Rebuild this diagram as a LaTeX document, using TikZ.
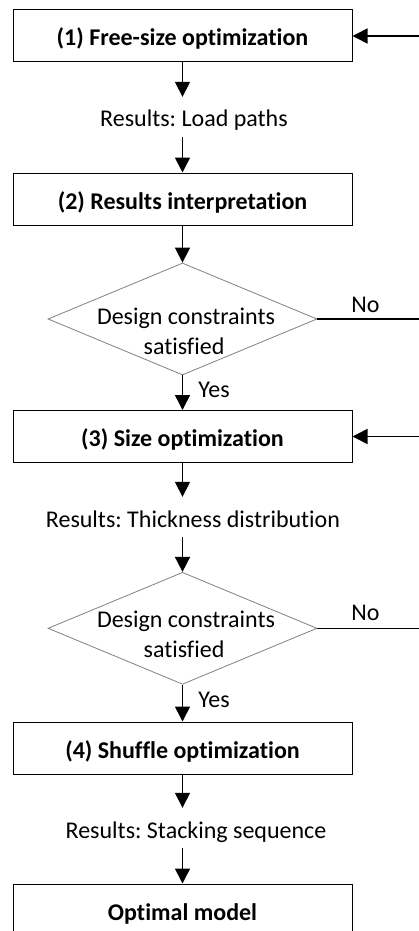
\documentclass[tikz,border=0pt]{standalone}
\usepackage{fontspec}
\setmainfont{Carlito}[Ligatures=NoCommon]
\usetikzlibrary{arrows.meta,shapes.geometric}
\frenchspacing

\begin{document}
\begin{tikzpicture}[x=1pt, y=-1pt,
      every node/.style = {font=\fontsize{24}{29}\selectfont},
      stepbox/.style = {draw, rectangle, line width=1pt, minimum width=339pt,
            minimum height=52pt, inner sep=0pt, text height=20pt, text depth=0pt,
            font=\bfseries\fontsize{24}{29}\selectfont},
      check/.style = {draw=gray, diamond, line width=0.8pt, minimum width=269pt,
            minimum height=112pt, inner sep=0pt},
      res/.style = {anchor=base, inner sep=0pt, text height=30pt, text depth=10pt},
      flow/.style = {-{Triangle[length=15pt,width=15pt]}, line width=1.6pt}
      ]
      \clip (0,0) rectangle (419,931);
      \coordinate (rim) at (420,0);

      \node[stepbox] (s1) at (182.5,36) {(1) Free-size optimization};
      \node[res] (r1) at (194,127) {Results: Load paths};
      \node[stepbox] (s2) at (182.5,199) {(2) Results interpretation};
      \node[check] (d1) at (182.5,319) {};
      \node[anchor=base] (t1) at (186,324) {Design constraints};
      \node[anchor=base] (t1b) at (184,354) {satisfied};
      \node[anchor=base] (no1) at (365.5,312) {No};
      \node[anchor=base] (yes1) at (214,397) {Yes};
      \node[stepbox] (s3) at (182.5,436.5) {(3) Size optimization};
      \node[res] (r2) at (193,527) {Results: Thickness distribution};
      \node[check] (d2) at (182.5,628.3) {};
      \node[anchor=base] (t2) at (186,627) {Design constraints};
      \node[anchor=base] (t2b) at (184,657) {satisfied};
      \node[anchor=base] (no2) at (365.5,620) {No};
      \node[anchor=base] (yes2) at (214,707) {Yes};
      \node[stepbox] (s4) at (182.5,748) {(4) Shuffle optimization};
      \node[res] (r3) at (196,838) {Results: Stacking sequence};
      \node[stepbox] (s5) at (182.5,910) {Optimal model};

      \draw[flow] (s1.south) -- (s1.south |- r1.north);
      \draw[flow] (s1.south |- r1.south) -- (s2.north);
      \draw[flow] (s2.south) -- (d1.north);
      \draw[flow] (d1.south) -- (s3.north);
      \draw[flow] (s3.south) -- (s3.south |- r2.north);
      \draw[flow] (s3.south |- r2.south) -- (d2.north);
      \draw[flow] (d2.south) -- (s4.north);
      \draw[flow] (s4.south) -- (s4.south |- r3.north);
      \draw[flow] (s4.south |- r3.south) -- (s5.north);

      \draw[line width=1.6pt] (d1.east) -- (d1.east -| rim);
      \draw[line width=1.6pt] (d2.east) -- (d2.east -| rim);
      \draw[flow] (s1.east -| rim) -- (s1.east);
      \draw[flow] (s3.east -| rim) -- (s3.east);
\end{tikzpicture}
\end{document}
